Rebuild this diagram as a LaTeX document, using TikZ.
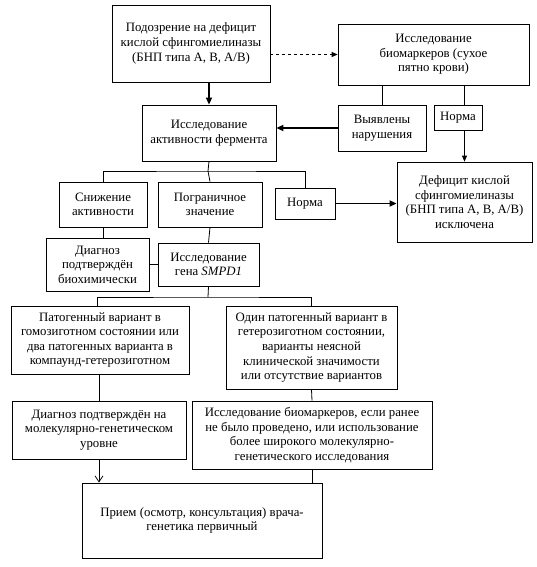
\documentclass[tikz,border=0pt]{standalone}
\usepackage{fontspec}
\setmainfont{Liberation Serif}
\newfontfamily\boxfont{Liberation Serif}
\usetikzlibrary{arrows.meta}

\tikzset{
    box/.style={draw, line width=0.8pt, align=center, inner sep=2pt,
        font=\boxfont\fontsize{12.8}{14.6}\selectfont},
    link/.style={line width=0.8pt},
    bigarrow/.style={line width=1.6pt, -{Triangle[length=7pt,width=6pt]}},
    thinarrow/.style={line width=0.8pt, -{Triangle[length=6pt,width=5pt]}}
}

\begin{document}
\begin{tikzpicture}[x=1pt, y=-1pt]
    \useasboundingbox[fill=white] (0,0) rectangle (537,567);

    % top row
    \node[box, minimum width=158pt, minimum height=77pt] (susp) at (191,43.5)
        {Подозрение на дефицит\\кислой сфингомиелиназы\\(БНП типа A, B, A/B)};
    \node[box, minimum width=191pt, minimum height=61pt] (bio) at (433.5,54.5)
        {Исследование\\биомаркеров (сухое\\пятно крови)};

    % enzyme activity
    \node[box, minimum width=134pt, minimum height=56pt] (act) at (209,133)
        {Исследование\\активности фермента};
    \node[box, minimum width=88pt, minimum height=46pt] (found) at (382,128)
        {Выявлены\\нарушения};
    \node[box, minimum width=48pt, minimum height=25pt] (normbio) at (458,117.5)
        {Норма};
    \node[box, minimum width=135pt, minimum height=80pt] (excl) at (464.5,202)
        {Дефицит кислой\\сфингомиелиназы\\(БНП типа A, B, A/B)\\исключена};

    % results of activity
    \node[box, minimum width=88pt, minimum height=45pt] (low) at (103,204.5)
        {Снижение\\активности};
    \node[box, minimum width=104pt, minimum height=45pt] (border) at (210,204.5)
        {Пограничное\\значение};
    \node[box, minimum width=60pt, minimum height=31pt] (normact) at (305,203.5)
        {Норма};
    \node[box, minimum width=103pt, minimum height=53pt] (diagbio) at (97.5,264.5)
        {Диагноз\\подтверждён\\биохимически};
    \node[box, minimum width=101pt, minimum height=43pt] (gene) at (208.5,264.5)
        {Исследование\\гена \textit{SMPD1}};

    % genetic results
    \node[box, minimum width=178pt, minimum height=68pt] (homo) at (100,340)
        {Патогенный вариант в\\гомозиготном состоянии или\\два патогенных варианта в\\компаунд-гетерозиготном};
    \node[box, minimum width=171pt, minimum height=83pt] (hetero) at (311.5,347.5)
        {Один патогенный вариант в\\гетерозиготном состоянии,\\варианты неясной\\клинической значимости\\или отсутствие вариантов};
    \node[box, minimum width=174pt, minimum height=58pt] (diaggen) at (99,430)
        {Диагноз подтверждён на\\молекулярно-генетическом\\уровне};
    \node[box, minimum width=240pt, minimum height=68pt] (bio2) at (312,435)
        {Исследование биомаркеров, если ранее\\не было проведено, или использование\\более широкого молекулярно-\\генетического исследования};
    \node[box, minimum width=240pt, minimum height=75pt] (visit) at (202,520.5)
        {Прием (осмотр, консультация) врача-\\генетика первичный};

    % branch points
    \coordinate (split1) at (208,171);
    \coordinate (split2) at (208,297);

    % connectors
    \draw[bigarrow] (act.north |- susp.south) -- (act.north);
    \draw[thinarrow, dashed] (susp.east |- bio.west) -- (bio.west);
    \draw[link] (found.north |- bio.south) -- (found.north);
    \draw[link] (excl.north |- bio.south) -- (excl.north |- normbio.north);
    \draw[thinarrow] (excl.north |- normbio.south) -- (excl.north);
    \draw[bigarrow] (found.west) -- (act.east |- found.west);
    \draw[link] (act.south) -- (split1);
    \draw[link] (low.north) |- (split1) -| (normact.north);
    \draw[link] (split1) -- (border.north);
    \draw[bigarrow] (normact.east) -- (excl.west |- normact.east);
    \draw[link] (low.south) -- (low.south |- diagbio.north);
    \draw[link] (border.south) -- (gene.north);
    \draw[link] (diagbio.east |- gene.west) -- (gene.west);
    \draw[link] (gene.south) -- (split2);
    \draw[link] (homo.north -| diagbio.south) |- (split2) -| (hetero.north);
    \draw[link] (homo.south -| diaggen.south) -- (diaggen.north);
    \draw[link] (hetero.south) -- (bio2.north);
    \draw[link, -{Straight Barb[length=6pt,width=8pt]}] (diaggen.south) -- (diaggen.south |- visit.north);
    \draw[link] (bio2.south) -- (bio2.south |- visit.north);
\end{tikzpicture}
\end{document}
